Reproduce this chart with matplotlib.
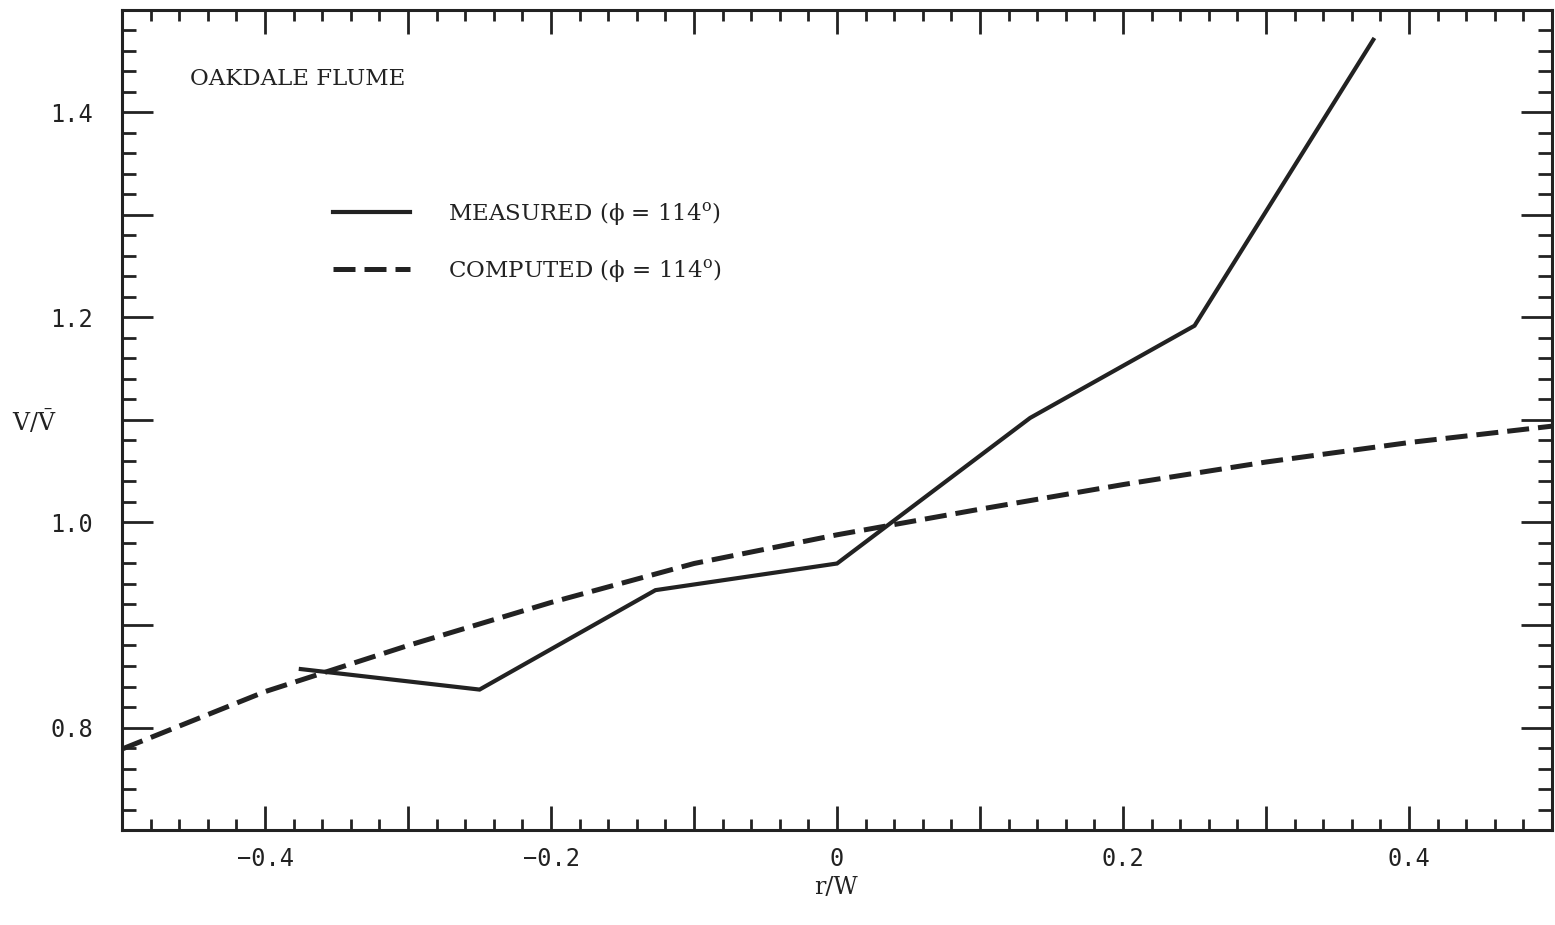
import matplotlib
matplotlib.use("Agg")
import matplotlib.pyplot as plt
from matplotlib.ticker import MultipleLocator, FuncFormatter

# Oakdale flume: velocity ratio across the channel width
r_measured = [-0.375, -0.25, -0.127, 0.0, 0.135, 0.25, 0.375]
v_measured = [0.857, 0.837, 0.934, 0.960, 1.102, 1.192, 1.471]

r_computed = [-0.5, -0.4, -0.3, -0.2, -0.1, 0.0, 0.1, 0.2, 0.3, 0.4, 0.5]
v_computed = [0.779, 0.835, 0.880, 0.922, 0.960, 0.988, 1.013, 1.037, 1.059, 1.078, 1.094]

label_measured = 'MEASURED (\u03d5 = 114$^{\\rm o}$)'
label_computed = 'COMPUTED (\u03d5 = 114$^{\\rm o}$)'

ink = '#222222'
plt.rcParams['mathtext.fontset'] = 'dejavuserif'
word_font = 'DejaVu Serif'
num_font = 'DejaVu Sans Mono'

fig = plt.figure(figsize=(15.55, 9.25), dpi=100)
ax = fig.add_axes([0.0785, 0.1027, 0.9196, 0.8865])

ax.plot(r_measured, v_measured, color=ink, lw=3.0, solid_joinstyle='miter',
        label=label_measured)
ax.plot(r_computed, v_computed, color=ink, lw=3.6, linestyle=(0, (4.4, 1.8)),
        label=label_computed)

ax.set_xlim(-0.5, 0.5)
ax.set_ylim(0.7, 1.5)

for side in ax.spines.values():
    side.set_linewidth(2.2)
    side.set_color(ink)

ax.xaxis.set_major_locator(MultipleLocator(0.1))
ax.xaxis.set_minor_locator(MultipleLocator(0.02))
ax.yaxis.set_major_locator(MultipleLocator(0.1))
ax.yaxis.set_minor_locator(MultipleLocator(0.02))


def every_other(v, pos):
    k = int(round(v * 10))
    if k % 2:
        return ''
    if k == 0:
        return '0'
    return f'{v:.1f}'.replace('-', '\u2212')


ax.xaxis.set_major_formatter(FuncFormatter(every_other))
ax.yaxis.set_major_formatter(FuncFormatter(every_other))

ax.tick_params(which='both', direction='in', top=True, right=True,
               width=2.0, color=ink, labelcolor=ink)
ax.tick_params(axis='x', which='major', length=17, pad=12, labelsize=17)
ax.tick_params(axis='x', which='minor', length=8)
ax.tick_params(axis='y', which='major', length=22, pad=21, labelsize=17)
ax.tick_params(axis='y', which='minor', length=10)
for lab in ax.get_xticklabels() + ax.get_yticklabels():
    lab.set_fontfamily(num_font)

ax.text(0.0476, 0.9156, 'OAKDALE FLUME', transform=ax.transAxes,
        fontsize=16.5, family=word_font, color=ink, va='center', ha='left')

leg = ax.legend(loc='upper left', bbox_to_anchor=(0.1476, 0.768), frameon=False,
                prop={'family': word_font, 'size': 16.5}, handlelength=3.36,
                handletextpad=1.66, labelspacing=1.3, borderpad=0, borderaxespad=0)
for t in leg.get_texts():
    t.set_color(ink)

fig.text(836 / 1555, 1 - 887 / 925, 'r/W', fontsize=17, family=word_font,
         color=ink, ha='center', va='center')
fig.text(12 / 1555, 1 - 422 / 925, r'V/$\bar{\mathrm{V}}$', fontsize=17,
         family=word_font, color=ink, ha='left', va='center')

fig.savefig('out.png', dpi=100)
